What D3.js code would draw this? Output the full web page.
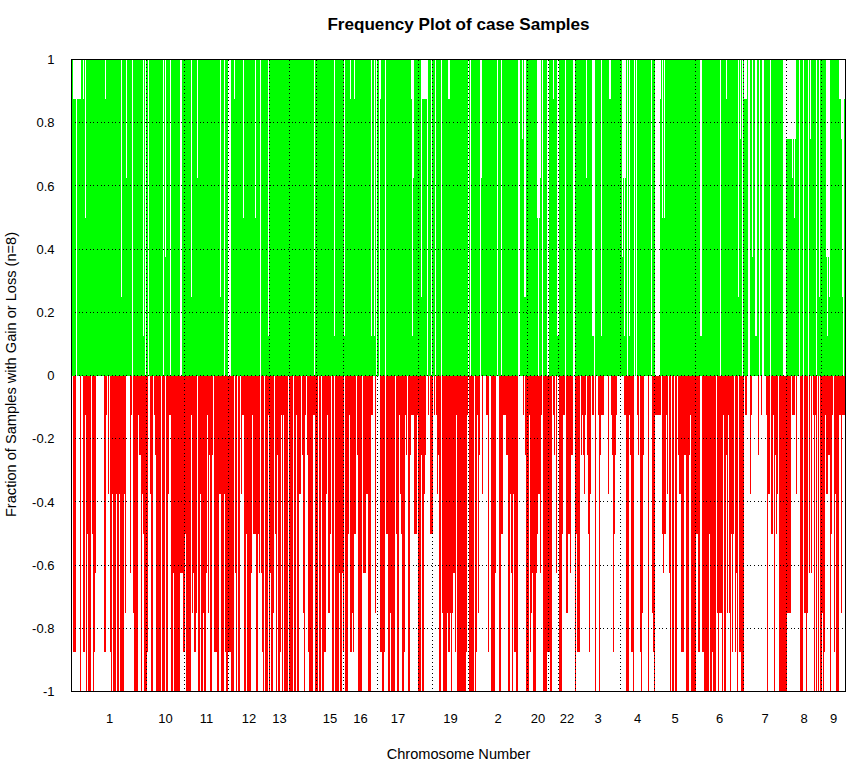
<!DOCTYPE html>
<html>
<head>
<meta charset="utf-8">
<script src="https://cdn.jsdelivr.net/npm/d3@7/dist/d3.min.js"></script>
<style>
html,body{margin:0;padding:0;background:#fff;}
svg{display:block;}
text{font-family:"Liberation Sans",Arial,sans-serif;fill:#000;}
</style>
</head>
<body>
<svg id="chart" width="868" height="768"></svg>
<script>
const sampleCount = 8;
const probeCount = 773;
const chartTitle = "Frequency Plot of case Samples";
const xTitle = "Chromosome Number";
const yTitle = "Fraction of Samples with Gain or Loss (n=8)";
const yTicks = [1,0.8,0.6,0.4,0.2,0,-0.2,-0.4,-0.6,-0.8,-1];
const chromosomes = ["1","10","11","12","13","14","15","16","17","18","19","2","20","21","22","3","4","5","6","7","8","9"];
const chromosomeEnds = [74,112,156,197,217,244,271,305,346,360,396,455,476,486,503,548,582,623,671,714,749,773];
const hiddenChromosomeLabels = ["14","18","21"];

// Gain: samples (of 8) at each probe; all probes are 8 except those listed.
const gainDipProbes = [1,2,3,4,5,6,7,8,11,13,33,49,54,60,71,73,76,91,93,98,108,109,119,125,148,152,156,157,158,162,171,183,188,196,242,
262,272,278,282,299,302,304,307,308,313,339,340,341,349,350,351,352,353,354,355,359,363,369,376,377,396,398,408,409,425,429,446,447,450,452,453,
465,466,467,468,470,475,476,481,485,486,493,501,502,514,520,521,522,529,537,538,550,551,552,553,555,557,562,564,579,583,584,585,586,587,588,590,592,
628,629,648,654,666,668,670,672,673,674,676,677,680,683,684,687,690,691,698,711,712,713,714,715,716,717,718,719,720,721,722,723,727,731,736,738,744,747,
754,755,756,757,767,768,769,770,771,772];
const gainDipSamples = [7,7,7,0,7,7,7,7,7,4,7,2,5,0,1,0,0,0,3,0,0,0,2,5,2,0,0,0,0,7,4,4,0,1,0,
1,1,7,7,1,1,0,0,7,0,7,1,5,2,7,7,7,7,7,0,0,0,0,7,7,0,0,0,5,0,0,0,0,6,2,2,
4,0,4,5,0,0,0,7,1,1,0,0,0,5,1,1,0,1,7,7,3,5,1,5,0,1,0,0,0,0,0,0,0,0,7,4,4,
1,1,0,7,2,6,0,7,7,7,0,0,3,1,1,0,0,0,0,0,0,0,6,6,6,6,6,6,5,6,4,6,0,0,0,6,0,2,
3,1,3,2,7,7,6,2,0,7];

// Loss: samples (of 8) per run of probes; each run lasts until the next listed probe.
const lossRunStarts = [0,1,4,8,9,11,13,14,15,16,19,20,21,22,23,24,32,34,35,36,37,38,39,40,41,44,45,47,48,52,53,54,58,59,60,61,62,66,67,69,70,71,72,75,76,78,79,81,82,83,84,89,90,93,94,96,97,99,101,102,108,111,113,114,119,120,121,122,124,125,126,128,129,131,132,134,135,136,137,138,140,141,142,145,147,149,152,153,154,156,159,
162,163,164,165,166,168,169,170,172,174,175,179,180,181,184,186,187,188,189,190,191,192,193,196,197,198,199,201,202,203,204,205,206,208,209,210,211,212,216,217,221,222,224,225,227,229,230,231,232,233,234,235,236,237,241,243,246,247,249,250,252,254,255,256,258,259,260,262,263,267,268,270,271,272,273,276,277,278,280,281,282,284,285,286,290,291,294,296,299,301,303,304,308,310,312,313,314,316,318,319,323,324,325,327,328,329,330,332,333,334,335,336,338,339,342,345,346,349,350,352,353,354,356,357,358,361,362,363,364,365,366,367,369,370,371,375,376,378,379,380,381,383,384,385,394,395,396,397,402,403,404,405,406,407,408,410,411,414,416,417,419,423,424,427,429,431,434,436,438,439,440,441,442,444,446,451,452,453,454,457,458,459,460,461,464,465,466,468,469,470,471,475,478,480,481,482,483,484,485,487,490,491,493,494,496,498,499,501,503,504,505,508,509,510,511,512,513,514,515,516,517,518,519,520,522,523,524,526,527,528,529,532,536,537,539,540,541,542,543,544,545,552,554,557,558,559,561,562,565,566,567,568,569,570,571,572,576,577,580,581,582,583,589,590,591,592,594,595,596,597,598,599,600,602,603,605,606,607,609,612,614,617,618,619,624,626,628,630,632,637,638,640,641,644,645,646,647,650,651,652,654,655,656,657,658,659,660,661,662,663,664,665,666,667,669,672,673,675,678,679,680,686,687,689,690,694,695,696,698,699,701,702,703,704,705,706,707,715,719,720,723,724,725,728,731,732,734,735,736,737,738,739,740,741,742,743,744,745,746,747,748,750,751,752,753,754,756,758,759,760,761,762,763,764,767,769,770];
const lossRunSamples = [0,7,0,8,0,7,1,8,4,8,0,4,8,7,5,0,7,1,0,3,0,7,8,3,8,3,8,3,8,3,6,0,5,1,0,6,8,1,2,8,3,4,8,7,0,3,8,0,1,2,8,0,8,0,8,3,1,8,5,8,5,7,4,8,1,6,5,7,6,0,8,3,8,6,8,5,1,6,2,8,2,0,7,8,3,8,3,7,8,7,8,
0,5,8,0,8,0,3,1,8,4,8,5,1,4,8,4,5,0,5,7,8,0,8,1,8,5,8,6,0,4,8,2,8,7,1,8,1,8,0,8,0,8,1,8,3,0,2,6,8,1,0,2,7,8,1,8,0,8,0,8,7,3,1,6,4,0,8,0,8,5,8,5,7,0,8,4,1,7,6,7,4,0,2,8,0,5,3,8,1,0,6,0,7,8,7,0,4,8,6,8,0,4,8,1,3,4,8,7,1,2,0,8,2,1,4,1,8,2,8,3,2,0,1,0,4,0,1,0,1,3,2,8,0,6,8,6,7,6,8,6,5,7,1,8,7,1,0,8,0,8,7,1,6,2,0,3,0,1,7,0,8,5,0,8,4,1,2,8,3,5,8,3,7,8,0,1,0,2,8,1,7,6,5,8,5,4,3,5,1,0,8,7,8,0,1,2,0,5,0,8,4,1,0,6,4,5,2,0,8,4,7,0,2,1,2,3,1,0,2,4,7,3,0,1,0,8,0,1,8,2,1,0,3,0,1,2,7,4,2,1,0,1,8,1,2,7,8,0,1,2,0,7,8,6,2,0,8,0,6,7,8,1,0,4,5,4,1,3,0,5,8,0,8,0,8,0,2,3,7,2,8,2,1,8,4,7,0,7,8,4,8,7,8,0,6,8,6,8,1,8,2,6,1,6,8,4,7,4,0,7,5,8,0,7,8,0,1,0,3,1,0,2,0,1,0,1,8,3,0,4,1,8,2,4,3,0,8,6,0,1,0,3,0,8,0,6,8,6,0,5,0,5,0,1,8,1,8,0,8,0,8,6,8,7,1,3,2,8,4,1,0,7,3,8,1,6,1];

function perProbeLoss() {
  const out = [];
  lossRunStarts.forEach((start, i) => {
    const end = i + 1 < lossRunStarts.length ? lossRunStarts[i + 1] : probeCount;
    for (let p = start; p < end; p++) out.push({probe: p, value: -lossRunSamples[i] / sampleCount});
  });
  return out;
}
function perProbeGain() {
  const dips = new Map(gainDipProbes.map((p, i) => [p, gainDipSamples[i]]));
  return d3.range(probeCount).map(p => ({probe: p, value: (dips.has(p) ? dips.get(p) : sampleCount) / sampleCount}));
}

const svg = d3.select("#chart");
const x = d3.scaleLinear().domain([0, probeCount]).range([72, 845]);
const y = d3.scaleLinear().domain([-1, 1]).range([691.5, 59.5]);

// bars
svg.append("g").attr("shape-rendering", "crispEdges").attr("fill", "#00ff00")
  .selectAll("rect").data(perProbeGain().filter(d => d.value > 0)).join("rect")
  .attr("x", d => x(d.probe)).attr("width", d => x(d.probe + 1) - x(d.probe))
  .attr("y", d => y(d.value)).attr("height", d => y(0) - y(d.value));
svg.append("g").attr("shape-rendering", "crispEdges").attr("fill", "#ff0000")
  .selectAll("rect").data(perProbeLoss().filter(d => d.value < 0)).join("rect")
  .attr("x", d => x(d.probe)).attr("width", d => x(d.probe + 1) - x(d.probe))
  .attr("y", y(0)).attr("height", d => y(d.value) - y(0));

// dotted grid
const grid = svg.append("g").attr("stroke", "#000").attr("stroke-width", 1).attr("stroke-dasharray", "1,2.67")
  .attr("fill", "none").attr("shape-rendering", "crispEdges");
grid.selectAll("line.h").data(yTicks.filter(t => Math.abs(t) < 1)).join("line").attr("class", "h")
  .attr("x1", 75).attr("x2", 845).attr("y1", d => Math.floor(y(d)) + 0.5).attr("y2", d => Math.floor(y(d)) + 0.5);
grid.selectAll("line.v").data(chromosomeEnds.slice(0, -1)).join("line").attr("class", "v")
  .attr("x1", d => x(d) + 0.5).attr("x2", d => x(d) + 0.5).attr("y1", 60).attr("y2", 691);

// frame
svg.append("rect").attr("x", 71.5).attr("y", 59.5).attr("width", 774).attr("height", 632)
  .attr("fill", "none").attr("stroke", "#000").attr("stroke-width", 1).attr("shape-rendering", "crispEdges");

// y axis
const yAxis = svg.append("g").attr("transform", "translate(71.5,0)")
  .call(d3.axisLeft(y).tickValues(yTicks).tickSize(0).tickPadding(17).tickFormat(d => String(d)));
yAxis.select(".domain").remove();
yAxis.selectAll("text").style("font-size", "13px").style("font-family", '"Liberation Sans"');

// x axis: chromosome labels at mid-span
const mids = chromosomes.map((c, i) => ({name: c, mid: ((i ? chromosomeEnds[i - 1] : 0) + chromosomeEnds[i]) / 2}))
  .filter(d => !hiddenChromosomeLabels.includes(d.name));
const xAxis = svg.append("g").attr("transform", "translate(0,691.5)")
  .call(d3.axisBottom(x).tickValues(mids.map(d => d.mid)).tickSize(0).tickPadding(22)
    .tickFormat(v => mids.find(d => d.mid === v).name));
xAxis.select(".domain").remove();
xAxis.selectAll("text").style("font-size", "13px").style("font-family", '"Liberation Sans"');

// titles
svg.append("text").attr("x", 458.5).attr("y", 29.5).attr("text-anchor", "middle")
  .style("font-size", "17.1px").style("font-weight", "bold").text(chartTitle);
svg.append("text").attr("x", 458.5).attr("y", 759).attr("text-anchor", "middle")
  .style("font-size", "14.6px").text(xTitle);
svg.append("text").attr("transform", "translate(15.5,374.5) rotate(-90)").attr("text-anchor", "middle")
  .style("font-size", "14.6px").text(yTitle);
</script>
</body>
</html>
